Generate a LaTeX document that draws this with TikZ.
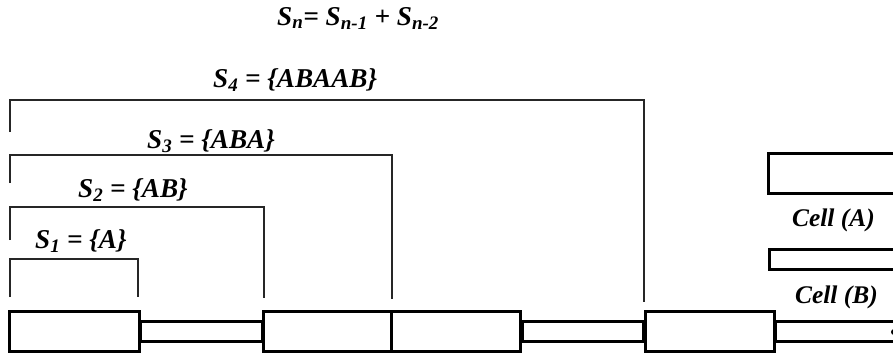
\documentclass[tikz,border=0pt]{standalone}
\usepackage{fontspec}
\setmainfont{Liberation Serif}
\begin{document}
\begin{tikzpicture}[x=1bp,y=-1bp,
  cellbox/.style={draw=black,fill=white,line width=3bp,minimum width=129bp,minimum height=40bp,inner sep=0,rectangle},
  bar/.style={draw=black,fill=white,line width=3bp},
  bracket/.style={draw=black!85,line width=1.3bp},
  lbl/.style={inner sep=0,anchor=base west,font=\fontsize{25.5}{30}\selectfont\bfseries\itshape},
  slbl/.style={inner sep=0,anchor=base west,font=\fontsize{27.3}{32}\selectfont\bfseries\itshape}]
\useasboundingbox (0,0) rectangle (893,356);
% right cell samples (clipped at right edge)
\begin{scope}
\clip (0,0) rectangle (893,356);
\node[bar,rectangle,minimum width=140bp,minimum height=40bp,inner sep=0,anchor=north west] (cellA) at (767,151.5) {};
\node[bar,rectangle,minimum width=140bp,minimum height=20bp,inner sep=0,anchor=north west] (cellB) at (768,247.5) {};
% main chain
\node[cellbox] (b1) at (74.5,331.5) {};
\node[cellbox] (b2) at (328,331.5) {};
\node[cellbox] (b3) at (456,331.5) {};
\node[cellbox] (b4) at (709.5,331.5) {};
\coordinate (endR) at (905,331.5);
\draw[bar] ([yshift=10bp]b1.east) rectangle ([yshift=-10bp]b2.west);
\draw[bar] ([yshift=10bp]b3.east) rectangle ([yshift=-10bp]b4.west);
\draw[bar] ([yshift=10bp]b4.east) rectangle ([yshift=-10bp]endR);
\node[cellbox] at (b1) {};
\node[cellbox] at (b2) {};
\node[cellbox] at (b3) {};
\node[cellbox] at (b4) {};
\fill[black] (894,332) circle (3bp);
\end{scope}
% brackets
\draw[bracket] (10,297) -- (10,259) -- (138,259) -- (138,297);
\draw[bracket] (10,240) -- (10,207) -- (264,207) -- (264,298);
\draw[bracket] (10,183) -- (10,155) -- (392,155) -- (392,299);
\draw[bracket] (10,132) -- (10,100) -- (644,100) -- (644,302);
% labels
\node[slbl] (tsn) at (277,25) {S\textsubscript{n}= S\textsubscript{n-1} + S\textsubscript{n-2}};
\node[slbl] (ts4) at (213,87.5) {S\textsubscript{4} = \{ABAAB\}};
\node[slbl] (ts3) at (147,148) {S\textsubscript{3} = \{ABA\}};
\node[slbl] (ts2) at (78,197.5) {S\textsubscript{2} = \{AB\}};
\node[slbl] (ts1) at (35,248.5) {S\textsubscript{1} = \{A\}};
\node[lbl] (tca) at (792,226) {Cell (A)};
\node[lbl] (tcb) at (795,303) {Cell (B)};
\end{tikzpicture}
\end{document}
